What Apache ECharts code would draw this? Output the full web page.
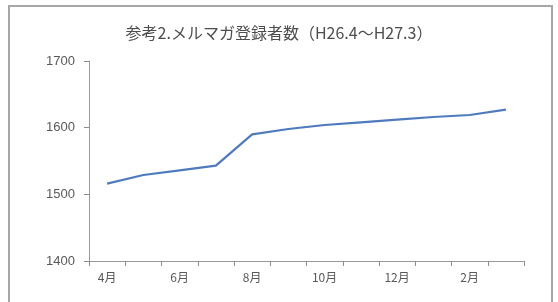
<!DOCTYPE html>
<html>
<head>
    <meta charset="utf-8">
    <title>ECharts</title>
    <script src="https://cdn.jsdelivr.net/npm/echarts@6/dist/echarts.min.js"></script>
</head>
<body style="margin:0;background:#fff;">
    <div id="main" style="width: 558px;height:302px;"></div>
    <script type="text/javascript">
        var months = ['4月', '5月', '6月', '7月', '8月', '9月', '10月', '11月', '12月', '1月', '2月', '3月'];
        var subscribers = [1516, 1529, 1536, 1543, 1590, 1598, 1604, 1608, 1612, 1616, 1619, 1627];
        var titleText = '参考2.メルマガ登録者数（H26.4～H27.3）';

        var myChart = echarts.init(document.getElementById('main'));

        var option = {
            backgroundColor: '#fff',
            animation: false,
            graphic: [{
                type: 'rect',
                shape: { x: 9, y: 6, width: 543, height: 300 },
                style: { fill: '#fff', stroke: '#a6a6a6', lineWidth: 2 }
            }],
            title: {
                text: titleText,
                left: 'center',
                top: 20,
                textStyle: {
                    color: '#4d4d4d',
                    fontSize: 16,
                    fontWeight: 'normal',
                    fontFamily: 'Noto Sans CJK JP'
                }
            },
            grid: {
                left: 89,
                right: 34,
                top: 61,
                bottom: 41,
                containLabel: false
            },
            xAxis: {
                type: 'category',
                data: months,
                boundaryGap: true,
                axisLine: { lineStyle: { color: '#999', width: 1 } },
                axisTick: { show: true, interval: 0, length: 5, lineStyle: { color: '#8c8c8c', width: 1 } },
                axisLabel: {
                    interval: 1,
                    color: '#595959',
                    fontSize: 12,
                    margin: 10,
                    fontFamily: 'Noto Sans CJK JP'
                },
                splitLine: { show: false }
            },
            yAxis: {
                type: 'value',
                min: 1400,
                max: 1700,
                interval: 100,
                axisLine: { show: true, lineStyle: { color: '#999', width: 1 } },
                axisTick: { show: true, length: 5, lineStyle: { color: '#8c8c8c', width: 1 } },
                axisLabel: {
                    color: '#595959',
                    fontSize: 13,
                    margin: 14,
                    fontFamily: 'Liberation Sans',
                    formatter: function (v) { return String(v); }
                },
                splitLine: { show: false }
            },
            series: [{
                name: 'メルマガ登録者数',
                type: 'line',
                data: subscribers,
                showSymbol: false,
                lineStyle: { color: '#4f7bbd', width: 2.2 },
                itemStyle: { color: '#4f7bbd' }
            }]
        };

        myChart.setOption(option);
    </script>
</body>
</html>
